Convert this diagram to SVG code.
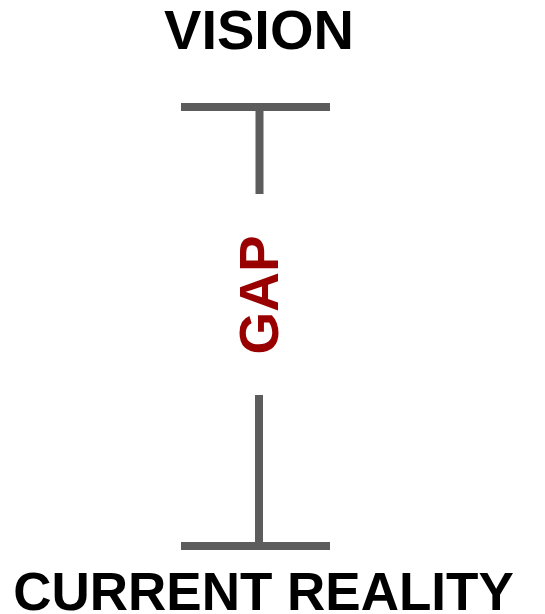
<svg xmlns="http://www.w3.org/2000/svg" width="545" height="614" viewBox="0 0 545 614">
<style>
.lbl{font-family:"Liberation Sans",Arial,sans-serif;font-weight:bold;fill:#000;text-anchor:middle}
.bar{stroke:#5c5c5c;stroke-width:8;fill:none}
.gap{font-family:"Liberation Sans",Arial,sans-serif;font-weight:bold;fill:#990000;text-anchor:middle}
</style>
<rect width="545" height="614" fill="#fff"/>
<g id="vision"><text class="lbl" x="259" y="49" font-size="56">VISION</text></g>
<g id="connectors">
<line class="bar" x1="181" y1="107" x2="330" y2="107"/>
<line class="bar" x1="259.5" y1="107" x2="259.5" y2="194"/>
<line class="bar" x1="259" y1="395" x2="259" y2="550"/>
<line class="bar" x1="181" y1="546" x2="330" y2="546"/>
</g>
<g id="gap"><text class="gap" x="0" y="0" font-size="55" transform="translate(277.5 295) rotate(-90)">GAP</text></g>
<g id="current-reality"><text class="lbl" x="263.5" y="610" font-size="53">CURRENT REALITY</text></g>
</svg>
